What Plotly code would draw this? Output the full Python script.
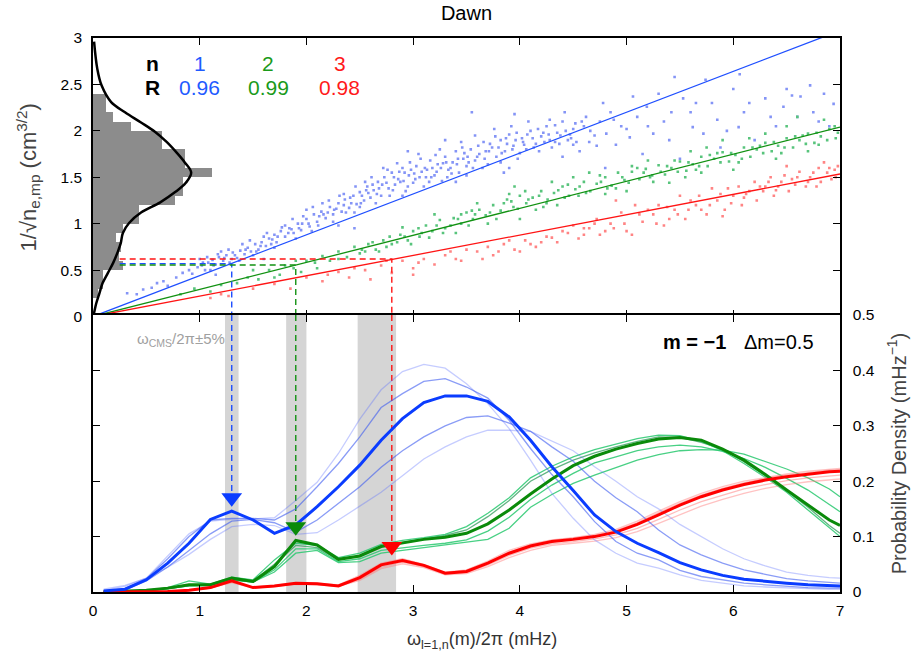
import plotly.graph_objects as go

FONT = "Liberation Sans, Arial, sans-serif"

# ---------------- top panel data ----------------
hist_y = [0.25, 0.35, 0.45, 0.55, 0.65, 0.75, 0.85, 0.95, 1.05, 1.15, 1.25, 1.35,
          1.45, 1.55, 1.65, 1.75, 1.85, 1.95, 2.05, 2.15, 2.25, 2.35]
hist_len = [0.047, 0.094, 0.094, 0.281, 0.244, 0.262, 0.216, 0.281, 0.431, 0.431, 0.769, 0.843,
            0.843, 1.115, 0.862, 0.862, 0.647, 0.647, 0.356, 0.187, 0.122, 0.122]

dens_x = [0.01, 0.04, 0.08, 0.17, 0.30, 0.45, 0.58, 0.69, 0.78, 0.86, 0.92, 0.87, 0.77,
          0.63, 0.45, 0.34, 0.28, 0.26, 0.23, 0.19, 0.14, 0.09, 0.06, 0.03, 0.01, 0.0]
dens_y = [2.96, 2.67, 2.49, 2.31, 2.20, 2.09, 1.99, 1.88, 1.77, 1.66, 1.55, 1.44, 1.34,
          1.23, 1.12, 1.01, 0.90, 0.79, 0.69, 0.58, 0.47, 0.36, 0.25, 0.14, 0.04, 0.0]

blue_pts = [(0.32,0.25),(0.41,0.24),(0.47,0.29),(0.55,0.31),(0.6,0.36),(0.66,0.38),(0.7,0.33),(0.78,0.42),
            (0.84,0.47),(0.9,0.5),(0.93,0.46),(0.98,0.53),(1.02,0.55),(1.05,0.5),(1.08,0.58),(1.12,0.61),
            (1.15,0.56),(1.18,0.64),(1.22,0.6),(1.25,0.66),(1.28,0.58),(1.31,0.69),(1.35,0.63),(1.38,0.71),
            (1.42,0.67),(1.45,0.74),(1.48,0.7),(1.52,0.78),(1.55,0.72),(1.58,0.8),(1.62,0.76),(1.65,0.84),
            (1.7,0.88),(1.72,0.8),(1.76,0.92),(1.8,0.86),(1.84,0.95),(1.88,0.9),(1.92,1.0),(1.95,0.93),
            (2.0,1.05),(2.03,0.97),(2.07,1.1),(2.1,1.02),(2.14,1.13),(2.18,1.06),(2.22,1.18),(2.25,1.1),
            (2.3,1.22),(2.33,1.13),(2.36,1.26),(2.4,1.17),(2.44,1.3),(2.47,1.21),(2.5,1.34),(2.54,1.25),
            (2.57,1.4),(2.6,1.28),(2.63,1.36),(2.67,1.45),(2.7,1.3),(2.73,1.5),(2.77,1.38),(2.8,1.55),
            (2.83,1.42),(2.86,1.48),(2.9,1.6),(2.93,1.35),(2.96,1.52),(3.0,1.44),(3.03,1.62),(3.06,1.5),
            (3.1,1.4),(3.13,1.58),(3.16,1.68),(3.2,1.52),(3.23,1.64),(3.27,1.46),(3.3,1.72),(3.33,1.58),
            (3.37,1.66),(3.4,1.78),(3.43,1.55),(3.47,1.7),(3.5,1.62),(3.54,1.8),(3.58,1.68),(3.62,1.75),
            (3.66,1.88),(3.7,1.64),(3.74,1.82),(3.78,1.72),(3.82,1.9),(3.86,1.78),(3.9,1.96),(3.94,1.84),
            (3.98,1.7),(4.02,1.92),(4.06,1.8),(4.1,2.0),(4.15,1.86),(4.2,1.94),(4.25,2.05),(4.3,1.82),
            (4.35,1.98),(4.4,2.1),(4.45,1.9),(4.5,2.02),(4.56,1.78),(4.62,2.15),(4.7,1.95),(4.78,2.3),
            (4.81,1.97),(4.9,1.85),(5.03,1.93),(5.06,2.37),(5.19,2.26),(5.25,1.97),(5.35,2.1),(5.45,2.58),
            (5.53,2.35),(5.62,2.04),(5.72,1.97),(5.74,2.55),(5.88,1.82),(5.94,2.0),(6.0,2.45),(6.05,2.04),
            (6.06,2.61),(6.2,1.9),(6.3,2.35),(6.47,2.26),(6.55,2.38),(6.63,2.37),(6.72,2.49),(6.8,2.1),
            (6.94,2.29),(3.55,2.2),(3.95,2.18),(2.95,1.78),(2.45,0.95),(4.8,1.6),(5.5,1.7),
            (2.42,1.22),(2.52,1.3),(2.58,1.33),(2.62,1.42),(2.68,1.38),(2.75,1.44),(2.82,1.5),(2.88,1.45),
            (2.92,1.55),(2.98,1.58),(3.02,1.48),(3.08,1.56),(3.12,1.5),(3.18,1.6),(3.22,1.56),(3.28,1.65),
            (3.35,1.6),(3.42,1.7),(3.48,1.76),(3.52,1.66),(3.6,1.72),(3.68,1.78),(3.72,1.86),(3.8,1.82),
            (3.88,1.86),(3.96,1.9),(4.04,1.85),(4.12,1.92),(4.22,1.98),(4.28,1.9),(4.38,1.95),(4.48,1.92),
            (4.52,2.08),(2.12,1.08),(2.2,1.12),(2.28,1.16),(2.35,1.2),(1.96,1.0),(1.86,0.94),(1.68,0.83),
            (1.0,0.62),(1.1,0.5),(1.2,0.7),(1.3,0.62),(1.4,0.78),(1.5,0.66),(1.6,0.86),(1.7,0.74),
            (1.8,0.98),(1.9,0.84),(2.0,1.15),(2.05,0.92),(2.15,1.22),(2.25,1.02),(2.35,1.32),(2.45,1.12),
            (2.55,1.45),(2.65,1.22),(2.72,1.6),(2.78,1.3),(2.85,1.65),(2.95,1.4),(3.05,1.75),(3.15,1.45),
            (3.25,1.8),(3.32,1.5),(3.45,1.88),(3.5,1.52),(3.58,1.95),(3.65,1.6),(3.76,2.02),(3.82,1.66),
            (3.92,2.05),(4.0,1.76),(4.08,2.1),(4.18,1.78),(4.28,2.12),(4.33,1.88),(4.42,2.2),(4.5,1.85),
            (4.6,2.05),(4.65,1.88),(4.75,2.1),(4.85,2.2),(4.95,2.05),(5.1,2.15),(5.3,2.4),(5.4,1.9),
            (5.6,2.2),(5.8,2.3),(6.1,2.2),(6.4,2.05),(6.6,2.15),(6.85,2.4),(5.15,1.75),(4.4,1.72),
            (3.3,1.9),(2.5,1.18),(3.9,1.6),
            (1.03,0.58),(1.07,0.64),(1.13,0.55),(1.17,0.67),(1.23,0.63),(1.27,0.72),(1.33,0.66),(1.37,0.6),
            (1.43,0.72),(1.47,0.82),(1.53,0.7),(1.57,0.76),(1.63,0.9),(1.67,0.78),(1.73,0.86),(1.77,0.96),
            (1.83,0.9),(1.87,1.05),(1.93,0.95),(1.97,1.08),(2.02,1.0),(2.06,1.18),(2.11,0.98),(2.16,1.1),
            (2.21,1.25),(2.26,1.15),(2.31,1.3),(2.37,1.12),(2.41,1.28),(2.46,1.4),(2.51,1.22),(2.56,1.36),
            (2.61,1.5),(2.66,1.32),(2.71,1.42),(2.76,1.58),(2.81,1.36),(2.87,1.56),(2.91,1.46),(2.97,1.66),
            (3.01,1.54),(3.07,1.7),(3.11,1.6),(3.17,1.5),(3.21,1.74),(3.26,1.6),(3.31,1.66),(3.36,1.54),
            (3.41,1.64),(3.46,1.82),(3.51,1.72),(3.56,1.6),(3.61,1.84),(3.67,1.7),(3.71,1.78),(3.77,1.94),
            (3.83,1.76),(3.87,1.92),(3.93,1.8),(3.97,1.98),(4.03,1.88),(4.07,1.96),(4.13,1.82),(4.17,2.02),
            (4.23,1.88),(4.27,1.96),(4.33,2.06),(4.37,1.86),(4.43,2.0),(4.47,1.96),(4.53,1.88),(4.58,2.1),
            (4.66,2.0),(4.72,1.84),(4.88,2.12),(5.0,2.02),(5.2,2.05),(5.42,2.2),(5.65,2.3),(5.85,2.12),
            (6.15,2.3),(6.35,2.15),(6.5,2.45),(6.75,2.2),(6.9,2.05),(2.9,1.3),(3.4,1.45),(3.85,1.55),
            (2.3,0.98),(1.6,0.62),(1.15,0.45)]

green_pts = [(0.82,0.24),(0.95,0.3),(1.1,0.27),(1.2,0.34),(1.35,0.36),(1.45,0.42),(1.55,0.4),(1.65,0.5),
             (1.75,0.45),(1.8,0.55),(1.88,0.52),(1.95,0.48),(2.0,0.6),(2.08,0.58),(2.15,0.65),(2.22,0.6),
             (2.3,0.7),(2.38,0.64),(2.45,0.75),(2.5,0.68),(2.58,0.78),(2.65,0.72),(2.72,0.82),(2.8,0.78),
             (2.88,0.88),(2.95,0.82),(3.0,0.92),(3.06,0.86),(3.12,0.98),(3.18,0.92),(3.25,1.04),(3.3,0.95),
             (3.38,1.06),(3.45,1.0),(3.5,1.12),(3.56,1.05),(3.62,1.15),(3.68,1.09),(3.75,1.2),(3.82,1.14),
             (3.88,1.26),(3.94,1.18),(4.0,1.3),(4.06,1.22),(4.12,1.28),(4.2,1.35),(4.26,1.26),(4.32,1.33),
             (4.4,1.4),(4.46,1.3),(4.52,1.37),(4.6,1.45),(4.66,1.35),(4.72,1.43),(4.8,1.5),(4.86,1.41),
             (4.92,1.55),(4.98,1.47),(5.05,1.56),(5.12,1.48),(5.18,1.59),(5.24,1.52),(5.3,1.63),(5.36,1.53),
             (5.42,1.6),(5.5,1.67),(5.56,1.57),(5.62,1.64),(5.7,1.72),(5.76,1.62),(5.82,1.7),(5.9,1.77),
             (5.96,1.67),(6.02,1.74),(6.1,1.82),(6.16,1.72),(6.22,1.8),(6.3,1.87),(6.36,1.78),(6.42,1.84),
             (6.5,1.92),(6.56,1.82),(6.62,1.9),(6.7,1.97),(6.76,1.87),(6.82,1.94),(6.9,2.02),(6.96,1.92),
             (6.6,2.15),(6.85,2.12),(5.9,1.9),(5.2,1.68),(4.5,1.5),(3.9,1.32),(4.0,1.05),(5.0,1.35),
             (6.0,1.58),(6.5,2.05),(6.3,1.97),(5.6,1.78),(5.4,1.44),(4.8,1.32),(4.3,1.45),(3.6,1.22),
             (3.2,1.1),(2.9,0.96),(3.4,0.9),(4.15,1.15),(5.7,1.55),(6.7,1.78),
             (1.5,0.5),(1.7,0.42),(1.9,0.6),(2.1,0.52),(2.3,0.62),(2.55,0.7),(2.75,0.75),(2.85,0.8),
             (3.05,0.95),(3.15,0.85),(3.35,0.98),(3.55,1.14),(3.7,1.0),(3.85,1.22),(4.05,1.35),(4.25,1.22),
             (4.45,1.42),(4.55,1.3),(4.75,1.52),(4.9,1.38),(5.1,1.6),(5.25,1.45),(5.45,1.68),(5.65,1.58),
             (5.85,1.76),(6.05,1.66),(6.25,1.84),(6.45,1.76),(6.65,1.95),(6.8,1.85),(6.95,2.05),(5.55,1.5),
             (6.15,1.92),(4.65,1.55),(3.95,1.4),(3.45,1.1),
             (2.52,0.72),(2.62,0.8),(2.68,0.7),(2.78,0.86),(2.92,0.86),(2.98,0.78),(3.08,0.9),(3.22,0.98),
             (3.28,0.9),(3.42,1.05),(3.52,0.98),(3.58,1.1),(3.72,1.12),(3.78,1.05),(3.92,1.24),(3.98,1.16),
             (4.08,1.26),(4.18,1.3),(4.22,1.18),(4.36,1.36),(4.42,1.28),(4.56,1.4),(4.62,1.33),(4.76,1.45),
             (4.82,1.38),(4.96,1.5),(5.02,1.44),(5.16,1.55),(5.22,1.5),(5.32,1.56),(5.38,1.62),(5.48,1.56),
             (5.58,1.66),(5.68,1.62),(5.78,1.74),(5.88,1.66),(5.98,1.76),(6.08,1.7),(6.18,1.82),(6.28,1.76),
             (6.38,1.88),(6.48,1.82),(6.58,1.94),(6.68,1.86),(6.78,1.98),(6.88,1.9),(6.98,1.98),(6.4,1.7),
             (5.75,1.82),(5.05,1.62),(4.35,1.2)]

red_pts = [(1.1,0.2),(1.2,0.24),(1.27,0.22),(1.5,0.3),(1.7,0.35),(1.85,0.3),(2.0,0.42),(2.15,0.38),
           (2.3,0.48),(2.4,0.42),(2.55,0.5),(2.7,0.55),(2.8,0.47),(2.9,0.6),(3.0,0.52),(3.1,0.62),
           (3.2,0.56),(3.3,0.66),(3.45,0.6),(3.6,0.7),(3.75,0.66),(3.85,0.78),(3.95,0.72),(4.05,0.82),
           (4.15,0.75),(4.25,0.86),(4.35,0.8),(4.45,0.9),(4.55,0.84),(4.65,0.95),(4.75,0.88),(4.85,1.0),
           (4.95,1.12),(5.0,0.92),(5.08,1.2),(5.15,1.02),(5.25,1.1),(5.35,0.98),(5.45,1.15),(5.55,1.05),
           (5.65,1.2),(5.75,1.1),(5.85,1.25),(5.92,1.15),(6.0,1.3),(6.08,1.2),(6.15,1.35),(6.22,1.25),
           (6.3,1.4),(6.38,1.3),(6.45,1.45),(6.52,1.35),(6.6,1.5),(6.68,1.4),(6.75,1.55),(6.82,1.45),
           (6.9,1.6),(6.96,1.5),(6.5,1.62),(6.85,1.66),(6.2,1.45),(5.8,1.38),(5.5,1.3),(5.05,0.88),
           (4.9,1.25),(4.5,0.98),(4.0,0.7),(3.5,0.72),(3.0,0.45),(2.6,0.4),
           (2.2,0.45),(2.45,0.52),(2.75,0.6),(3.05,0.58),(3.35,0.7),(3.65,0.62),(3.9,0.82),(4.2,0.8),
           (4.4,0.92),(4.7,1.0),(4.8,0.92),(5.2,1.15),(5.4,1.05),(5.6,1.25),(5.7,1.15),(5.95,1.38),
           (6.1,1.28),(6.25,1.4),(6.4,1.36),(6.55,1.48),(6.7,1.45),(6.8,1.6),(6.95,1.58),(6.35,1.5),
           (5.9,1.08),(5.3,1.2),(4.6,0.88),(3.8,0.7),
           (4.6,0.95),(4.72,1.05),(4.88,0.95),(4.98,1.0),(5.12,1.1),(5.28,1.0),(5.38,1.18),(5.48,1.1),
           (5.58,1.15),(5.68,1.3),(5.78,1.2),(5.88,1.32),(5.98,1.22),(6.05,1.4),(6.12,1.32),(6.28,1.35),
           (6.33,1.45),(6.42,1.4),(6.48,1.52),(6.58,1.42),(6.62,1.56),(6.72,1.5),(6.78,1.4),(6.88,1.55),
           (6.92,1.48),(6.98,1.62),(4.3,0.85),(4.1,0.78),(3.7,0.75),(3.4,0.62)]

fit_slope = [0.44, 0.2914, 0.2193]
fit_names = ["1", "2", "3"]
fit_R = ["0.96", "0.99", "0.98"]
omega_cms = [1.30, 1.90, 2.80]
omega_y = [0.57, 0.555, 0.62]
hline_start = 0.25
tri_y = [0.170, 0.118, 0.082]
band_lo = [1.237, 1.81, 2.48]
band_hi = [1.364, 2.00, 2.84]

# ---------------- bottom panel data ----------------
freq = [0.1, 0.3, 0.5, 0.7, 0.9, 1.1, 1.3, 1.5, 1.7, 1.9, 2.1, 2.3, 2.5, 2.7, 2.9, 3.1, 3.3, 3.5,
        3.7, 3.9, 4.1, 4.3, 4.5, 4.7, 4.9, 5.1, 5.3, 5.5, 5.7, 5.9, 6.1, 6.3, 6.5, 6.7, 6.9, 7.0]

blue_main = [0.002,0.005,0.022,0.052,0.088,0.131,0.146,0.130,0.106,0.121,0.154,0.190,0.229,0.274,0.313,0.342,0.354,0.354,
             0.344,0.316,0.274,0.226,0.183,0.139,0.109,0.088,0.071,0.053,0.040,0.030,0.023,0.019,0.016,0.013,0.011,0.011]
blue_a = [0.003,0.010,0.025,0.065,0.105,0.128,0.131,0.132,0.134,0.165,0.198,0.250,0.312,0.365,0.398,0.411,0.404,0.376,
          0.340,0.295,0.238,0.178,0.133,0.094,0.070,0.052,0.043,0.031,0.021,0.016,0.011,0.009,0.007,0.006,0.005,0.005]
blue_b = [0.002,0.006,0.024,0.060,0.100,0.130,0.133,0.133,0.130,0.150,0.190,0.232,0.280,0.333,0.358,0.380,0.385,0.370,
          0.350,0.310,0.259,0.212,0.172,0.127,0.091,0.070,0.058,0.039,0.028,0.022,0.016,0.013,0.010,0.008,0.007,0.007]
blue_c = [0.002,0.004,0.020,0.045,0.075,0.105,0.128,0.131,0.125,0.108,0.130,0.160,0.190,0.225,0.255,0.280,0.300,0.315,
          0.318,0.305,0.290,0.262,0.236,0.200,0.170,0.145,0.112,0.085,0.067,0.052,0.040,0.032,0.024,0.020,0.017,0.016]
blue_d = [0.005,0.012,0.025,0.045,0.068,0.095,0.118,0.122,0.120,0.104,0.107,0.130,0.155,0.180,0.210,0.240,0.262,0.280,
          0.292,0.292,0.290,0.272,0.255,0.226,0.200,0.172,0.150,0.122,0.100,0.078,0.060,0.047,0.036,0.030,0.026,0.025]

green_main = [0.000,0.001,0.003,0.007,0.013,0.013,0.025,0.019,0.046,0.093,0.085,0.059,0.065,0.082,0.089,0.095,0.099,0.106,
              0.123,0.148,0.177,0.204,0.228,0.245,0.258,0.268,0.276,0.279,0.274,0.258,0.238,0.212,0.184,0.157,0.130,0.120]
green_a = [0.000,0.001,0.003,0.008,0.020,0.014,0.027,0.022,0.058,0.088,0.084,0.062,0.070,0.086,0.093,0.098,0.104,0.118,
           0.142,0.170,0.206,0.227,0.244,0.257,0.267,0.277,0.283,0.282,0.272,0.255,0.232,0.207,0.180,0.148,0.116,0.100]
green_b = [0.000,0.001,0.003,0.006,0.012,0.013,0.024,0.020,0.050,0.084,0.080,0.058,0.066,0.083,0.090,0.096,0.102,0.112,
           0.136,0.165,0.200,0.221,0.238,0.251,0.262,0.272,0.280,0.279,0.270,0.258,0.235,0.210,0.183,0.153,0.120,0.106]
green_c = [0.000,0.001,0.003,0.006,0.011,0.012,0.022,0.018,0.040,0.078,0.078,0.055,0.060,0.075,0.080,0.084,0.088,0.094,
           0.110,0.135,0.167,0.193,0.214,0.233,0.244,0.255,0.262,0.265,0.262,0.254,0.241,0.225,0.205,0.184,0.158,0.145]
green_d = [0.000,0.001,0.002,0.006,0.011,0.012,0.022,0.018,0.036,0.070,0.075,0.053,0.055,0.070,0.075,0.080,0.085,0.091,
           0.095,0.115,0.153,0.176,0.196,0.211,0.225,0.238,0.248,0.255,0.257,0.256,0.249,0.236,0.222,0.206,0.186,0.172]

red_main = [0.000,0.000,0.000,0.001,0.003,0.008,0.020,0.008,0.011,0.016,0.015,0.011,0.026,0.049,0.057,0.048,0.034,0.037,
            0.052,0.070,0.083,0.091,0.095,0.100,0.108,0.122,0.139,0.157,0.172,0.184,0.194,0.202,0.208,0.213,0.217,0.218]
red_a = [0,0,0,0.001,0.003,0.008,0.019,0.009,0.012,0.017,0.016,0.013,0.030,0.052,0.060,0.050,0.036,0.040,
         0.056,0.075,0.087,0.094,0.098,0.104,0.113,0.128,0.146,0.163,0.178,0.190,0.200,0.207,0.213,0.218,0.222,0.223]
red_b = [0,0,0,0.001,0.003,0.008,0.020,0.008,0.011,0.016,0.015,0.012,0.028,0.051,0.059,0.049,0.035,0.039,
         0.054,0.072,0.085,0.093,0.097,0.102,0.111,0.125,0.143,0.160,0.175,0.187,0.197,0.205,0.211,0.216,0.220,0.221]
red_c = [0,0,0,0.001,0.003,0.007,0.018,0.008,0.010,0.015,0.014,0.010,0.023,0.045,0.054,0.046,0.033,0.035,
         0.049,0.066,0.079,0.087,0.091,0.096,0.103,0.115,0.131,0.148,0.163,0.175,0.186,0.194,0.201,0.206,0.210,0.211]
red_d = [0,0,0,0.001,0.002,0.007,0.017,0.007,0.010,0.014,0.013,0.010,0.021,0.042,0.051,0.044,0.031,0.033,
         0.046,0.062,0.075,0.084,0.088,0.092,0.098,0.109,0.124,0.140,0.155,0.167,0.178,0.187,0.194,0.199,0.203,0.204]

# ---------------- styles ----------------
C_BLUE = "#1f4fff"
C_GREEN = "#119111"
C_RED = "#ff1414"
line_cols = [C_BLUE, C_GREEN, C_RED]
dot_cols = ["#8494f6", "#58c47c", "#ff8484"]
text_cols = ["#1f5bff", "#1a9a1a", "#ff1a1a"]

fig = go.Figure()

# histogram
fig.add_trace(go.Bar(y=hist_y, x=hist_len, orientation="h", width=0.1,
                     marker=dict(color="#8c8c8c", line=dict(width=0)),
                     xaxis="x", yaxis="y", showlegend=False, hoverinfo="skip"))
fig.add_trace(go.Scatter(x=dens_x, y=dens_y, mode="lines", line=dict(color="black", width=2.5, shape="spline"),
                         xaxis="x", yaxis="y", showlegend=False))

# scatter clouds
for pts, col in zip([blue_pts, green_pts, red_pts], dot_cols):
    fig.add_trace(go.Scatter(x=[p[0] for p in pts], y=[p[1] for p in pts], mode="markers",
                             marker=dict(symbol="square", size=2.6, color=col, line=dict(width=0)),
                             xaxis="x", yaxis="y", showlegend=False))

# fit lines
for s, col in zip(fit_slope, line_cols):
    fig.add_trace(go.Scatter(x=[0, 7], y=[0, 7 * s], mode="lines", line=dict(color=col, width=1.3),
                             xaxis="x", yaxis="y", showlegend=False))

# dashed guides (top panel)
for om, yv, col in zip(omega_cms, omega_y, line_cols):
    fig.add_trace(go.Scatter(x=[hline_start, om, om], y=[yv, yv, 0], mode="lines",
                             line=dict(color=col, width=1.4, dash="6px,4px"),
                             xaxis="x", yaxis="y", showlegend=False))

# bottom: gray bands
shapes = []
for lo, hi in zip(band_lo, band_hi):
    shapes.append(dict(type="rect", xref="x2", yref="y2", x0=lo, x1=hi, y0=0, y1=0.5,
                       fillcolor="#d5d5d5", line=dict(width=0), layer="below"))

# dashed guides (bottom panel)
for om, ty, col in zip(omega_cms, tri_y, line_cols):
    fig.add_trace(go.Scatter(x=[om, om], y=[0.5, ty], mode="lines",
                             line=dict(color=col, width=1.4, dash="6px,4px"),
                             xaxis="x2", yaxis="y2", showlegend=False))

thin_sets = [
    (green_d, "rgba(40,200,110,0.85)"), (green_c, "rgba(40,200,110,0.85)"),
    (green_b, "rgba(60,160,100,0.8)"), (green_a, "rgba(40,200,110,0.85)"),
    (red_d, "rgba(255,120,120,0.45)"), (red_c, "rgba(255,120,120,0.5)"),
    (red_b, "rgba(255,110,110,0.5)"), (red_a, "rgba(255,120,120,0.45)"),
    (blue_d, "rgba(90,110,255,0.35)"), (blue_a, "rgba(90,110,255,0.35)"),
    (blue_c, "rgba(60,90,240,0.6)"), (blue_b, "rgba(60,90,240,0.6)"),
]
for ys, col in thin_sets:
    fig.add_trace(go.Scatter(x=freq, y=ys, mode="lines", line=dict(color=col, width=1.3),
                             xaxis="x2", yaxis="y2", showlegend=False))

for ys, col in [(green_main, "#0a8a0a"), (red_main, "#ff0000"), (blue_main, "#0a3cff")]:
    fig.add_trace(go.Scatter(x=freq, y=ys, mode="lines", line=dict(color=col, width=3),
                             xaxis="x2", yaxis="y2", showlegend=False))

fig.add_trace(go.Scatter(x=omega_cms, y=tri_y, mode="markers",
                         marker=dict(symbol="triangle-down", size=18, color=["#0a3cff", "#0a8a0a", "#ff0000"],
                                     line=dict(width=0)),
                         xaxis="x2", yaxis="y2", showlegend=False))

# ---------------- annotations ----------------
ann = []
big = dict(family=FONT, size=21)
ann.append(dict(x=0.56, y=2.73, xref="x", yref="y", text="<b>n</b>", showarrow=False, font=dict(**big, color="black")))
ann.append(dict(x=0.56, y=2.47, xref="x", yref="y", text="<b>R</b>", showarrow=False, font=dict(**big, color="black")))
for xp, nm, rv, col in zip([1.0, 1.64, 2.31], fit_names, fit_R, text_cols):
    ann.append(dict(x=xp, y=2.73, xref="x", yref="y", text=nm, showarrow=False, font=dict(**big, color=col)))
    ann.append(dict(x=xp, y=2.47, xref="x", yref="y", text=rv, showarrow=False, font=dict(**big, color=col)))

ann.append(dict(x=0.39, y=0.455, xref="x2", yref="y2", xanchor="left", text="ω<sub>CMS</sub>/2π±5%",
                showarrow=False, font=dict(family=FONT, size=15, color="#a0a0a0")))
ann.append(dict(x=5.95, y=0.452, xref="x2", yref="y2", xanchor="right", text="<b>m = −1</b>",
                showarrow=False, font=dict(family=FONT, size=20, color="black")))
ann.append(dict(x=6.08, y=0.452, xref="x2", yref="y2", xanchor="left", text="Δm=0.5",
                showarrow=False, font=dict(family=FONT, size=20, color="black")))
# x-axis title (placed as annotation to match the reference's horizontal offset)
ann.append(dict(x=0.521, y=-0.087, xref="paper", yref="paper", xanchor="center", yanchor="middle",
                text="ω<sub>l=1,n</sub>(m)/2π (mHz)", showarrow=False,
                font=dict(family=FONT, size=18, color="#333")))

tickfont = dict(family=FONT, size=15.5, color="black")
axis_common = dict(ticks="inside", ticklen=7, tickwidth=1.3, tickcolor="black", showline=True,
                   linecolor="black", linewidth=1.5, mirror="ticks", showgrid=False, zeroline=False,
                   tickfont=tickfont, automargin=False)

fig.update_layout(
    width=922, height=660,
    margin=dict(l=93, r=82, t=38, b=68),
    paper_bgcolor="white", plot_bgcolor="white",
    font=dict(family=FONT),
    title=dict(text="Dawn", x=0.5, xref="paper", y=1 - 13 / 660, yref="container", yanchor="middle",
               font=dict(family=FONT, size=20, color="black")),
    xaxis=dict(domain=[0, 1], anchor="y", range=[0, 7], dtick=1, tick0=0, showticklabels=False, **axis_common),
    yaxis=dict(domain=[0.4973, 1], anchor="x", range=[0, 3], dtick=0.5, tick0=0, ticklabelstandoff=6,
               title=dict(text="1/√n<sub>e,mp</sub> (cm<sup>3/2</sup>)", standoff=18,
                          font=dict(family=FONT, size=22, color="#444")), **axis_common),
    xaxis2=dict(domain=[0, 1], anchor="y2", range=[0, 7], dtick=1, tick0=0, ticklabelstandoff=4,
                **axis_common),
    yaxis2=dict(domain=[0, 0.5], anchor="x2", range=[0, 0.5], dtick=0.1, tick0=0, side="right",
                ticklabelstandoff=8,
                title=dict(text="Probability Density (mHz<sup>−1</sup>)", standoff=18,
                           font=dict(family=FONT, size=20, color="#444")), **axis_common),
    shapes=shapes, annotations=ann, showlegend=False, bargap=0,
)

fig.write_html("out.html", config={"displayModeBar": False},
               post_script="document.body.style.margin='0px';document.body.style.overflow='hidden';")
